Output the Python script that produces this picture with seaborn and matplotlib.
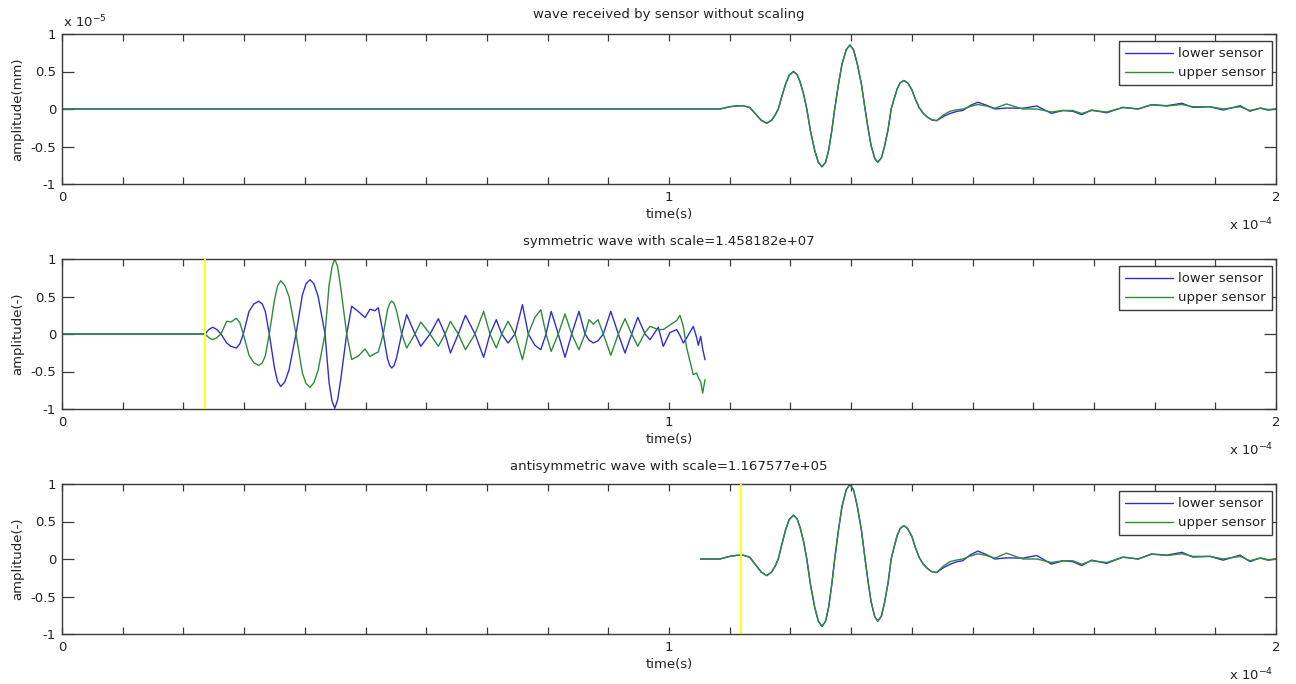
import numpy as np
import pandas as pd
import matplotlib
matplotlib.use("Agg")
import matplotlib.pyplot as plt
import seaborn as sns
from matplotlib.ticker import FixedLocator, MultipleLocator, FuncFormatter
from matplotlib.lines import Line2D

# ---------------- data ----------------
# top panel: main pulse shared by both sensors (time in microseconds,
# amplitude in units of 1e-5 mm)
pulse_t = [0.0, 105.2, 108.4, 110.0, 111.2, 112.2, 113.3, 114.2, 115.2, 116.1,
           116.9, 117.5, 118.0, 118.6, 119.2, 119.8, 120.5, 121.1, 121.6, 122.2,
           122.7, 123.3, 124.0, 124.6, 125.2, 125.8, 126.3, 126.8, 127.3, 127.9,
           128.5, 129.2, 129.8, 130.4, 131.0, 131.7, 132.3, 132.8, 133.3, 133.9,
           134.4, 135.0, 135.5, 136.1, 136.6, 137.1, 137.6, 138.1, 138.7, 139.3,
           140.0, 140.6, 141.2, 141.9, 142.6, 143.3, 144.1]
pulse_amp = [0, 0, 0, 0.03, 0.042, 0.044, 0.02, -0.06, -0.15, -0.19,
             -0.15, -0.08, 0, 0.17, 0.33, 0.45, 0.50, 0.46, 0.36, 0.19,
             0, -0.29, -0.55, -0.71, -0.77, -0.71, -0.55, -0.30, 0, 0.32,
             0.60, 0.79, 0.853, 0.79, 0.61, 0.33, 0, -0.26, -0.49, -0.66,
             -0.71, -0.65, -0.50, -0.27, 0, 0.14, 0.27, 0.35, 0.38, 0.35,
             0.26, 0.13, 0.02, -0.06, -0.11, -0.145, -0.155]
# top panel: ringing tail, where the two sensors differ slightly
tail_t = [145.2, 146.3, 147.5, 148.4, 149.7, 150.9, 152.3, 153.7, 155.6, 158.3,
          160.6, 163.0, 164.9, 166.5, 168.0, 169.6, 172.1, 174.8, 177.3, 179.5,
          182.0, 184.5, 186.3, 189.1, 191.3, 194.1, 195.7, 197.4, 198.7, 200.0]
tail_lower = [-0.10, -0.06, -0.03, -0.02, 0.05, 0.09, 0.05, 0.0, 0.013, 0.01,
              0.04, -0.058, -0.02, -0.03, -0.075, -0.013, -0.05, 0.022, 0.0, 0.058,
              0.044, 0.076, 0.022, 0.03, -0.013, 0.044, -0.03, 0.013, -0.013, 0.0]
tail_upper = [-0.08, -0.03, -0.01, 0.0, 0.035, 0.06, 0.04, 0.01, 0.067, 0.0,
              0.0, -0.04, -0.02, -0.02, -0.06, -0.02, -0.04, 0.02, 0.0, 0.055,
              0.04, 0.06, 0.03, 0.03, 0.0, 0.03, -0.02, 0.01, -0.01, 0.0]

# middle panel (symmetric wave), time in microseconds, amplitude (-)
sym_t = [0.0, 23.56, 24.2, 24.83, 25.5, 26.19, 27.13, 27.84, 28.71, 29.3,
         29.87, 30.8, 31.6, 32.42, 33.0, 33.5, 34.15, 35.0, 35.5, 36.03,
         36.7, 37.4, 38.55, 39.6, 40.2, 40.86, 41.5, 42.2, 43.33, 44.0,
         44.5, 44.94, 45.4, 45.9, 46.9, 47.73, 48.81, 49.92, 50.74, 51.57,
         52.11, 52.93, 53.62, 54.0, 54.32, 54.7, 55.11, 55.96, 56.79, 58.15,
         59.11, 60.63, 62.0, 63.1, 63.99, 65.29, 66.47, 68.04, 69.46, 70.51,
         71.55, 72.44, 73.48, 74.63, 75.86, 76.82, 77.9, 78.88, 79.74, 80.59,
         81.76, 82.87, 83.97, 85.17, 86.16, 86.82, 87.53, 88.3, 89.18, 90.41,
         91.65, 92.75, 93.85, 94.86, 96.05, 96.87, 98.24, 99.06, 100.16, 101.27,
         101.81, 102.36, 102.92, 104.0, 104.56, 104.83, 105.22, 105.55, 105.93]
sym_lower = [0, 0, 0.06, 0.09, 0.06, 0, -0.12, -0.165, -0.187, -0.13,
             0, 0.30, 0.40, 0.436, 0.40, 0.30, 0, -0.45, -0.63, -0.70,
             -0.64, -0.48, 0, 0.52, 0.67, 0.724, 0.67, 0.50, 0, -0.65,
             -0.90, -0.99, -0.88, -0.62, 0, 0.37, 0.30, 0.22, 0.33, 0.31,
             0.35, 0, -0.33, -0.42, -0.453, -0.42, -0.32, 0, 0.258, 0,
             -0.164, 0, 0.204, 0, -0.253, 0, 0.249, 0, -0.311, 0,
             0.191, 0, -0.12, 0, 0.391, 0, -0.15, -0.209, 0, 0.302,
             0, -0.311, 0, 0.302, 0, -0.08, -0.12, -0.09, 0, 0.302,
             0, -0.253, 0, 0.222, 0, -0.076, 0.089, -0.164, 0.02, 0.058,
             -0.02, -0.12, -0.05, 0.102, -0.05, -0.151, -0.031, -0.20, -0.342]
sym_upper = [0, 0, -0.05, -0.076, -0.05, 0, 0.17, 0.16, 0.21, 0.15,
             0, -0.28, -0.385, -0.418, -0.385, -0.29, 0, 0.45, 0.64, 0.71,
             0.65, 0.50, 0, -0.52, -0.66, -0.711, -0.65, -0.48, 0, 0.65,
             0.90, 1.0, 0.90, 0.63, 0, -0.34, -0.295, -0.20, -0.30, -0.26,
             -0.24, 0, 0.32, 0.41, 0.44, 0.41, 0.31, 0, -0.187, 0,
             0.16, 0, -0.164, 0, 0.169, 0, -0.209, 0, 0.302, 0,
             -0.187, 0, 0.169, 0, -0.342, 0, 0.22, 0.324, 0, -0.231,
             0, 0.267, 0, -0.209, 0, 0.191, 0.13, 0.191, 0, -0.284,
             0, 0.204, 0, -0.164, 0.02, 0.102, 0.058, 0.06, 0.12, 0.18,
             0.249, 0.10, -0.187, -0.542, -0.52, -0.58, -0.64, -0.787, -0.609]

# bottom panel: antisymmetric wave = raw wave (mm) times the stated scale
anti_scale = 1.167577e5
sym_scale = 1.458182e7
anti_start_us = 105.2
sym_marker_us = 23.56
anti_marker_us = 111.86

titles = ["wave received by sensor without scaling",
          "symmetric wave with scale=1.458182e+07",
          "antisymmetric wave with scale=1.167577e+05"]
ylabels = ["amplitude(mm)", "amplitude(-)", "amplitude(-)"]
xlabel_text = "time(s)"
legend_labels = ["lower sensor", "upper sensor"]
y_ticks = [-1, -0.5, 0, 0.5, 1]
x_major = [0, 1, 2]          # in units of 1e-4 s

# ---------------- styling ----------------
sns.set_theme(style="white")
plt.rcParams["font.family"] = ["DejaVu Sans"]
plt.rcParams["mathtext.fontset"] = "dejavusans"

BLUE = "#2f2fcf"
GREEN = "#2e8b38"
YELLOW = "#ffff00"
EDGE = "#3a3a3a"
TXT = "#222222"
FS = 9.5

W, H = 1296, 684
fig = plt.figure(figsize=(W / 100, H / 100), dpi=100)
fig.patch.set_facecolor("white")

left = 62 / W
width = (1276 - 62) / W
tops = [34, 259, 484]
heights = 150
axes = []
for tp in tops:
    ax = fig.add_axes([left, 1 - (tp + heights) / H, width, heights / H])
    axes.append(ax)

# assemble frames
top_time = np.array(pulse_t + tail_t) * 1e-6
df_top = pd.DataFrame({
    "t": top_time,
    "lower": np.array(pulse_amp + tail_lower) * 1e-5,
    "upper": np.array(pulse_amp + tail_upper) * 1e-5,
})
df_sym = pd.DataFrame({"t": np.array(sym_t) * 1e-6,
                       "lower": sym_lower, "upper": sym_upper})
df_anti = df_top[df_top["t"] >= anti_start_us * 1e-6].copy()
df_anti["lower"] = df_anti["lower"] * anti_scale
df_anti["upper"] = df_anti["upper"] * anti_scale

datasets = [df_top, df_sym, df_anti]
markers = [None, sym_marker_us, anti_marker_us]
yscales = [1e-5, 1.0, 1.0]
title_pads = [11.5, 10.0, 10.0]

for i, (ax, df) in enumerate(zip(axes, datasets)):
    sns.lineplot(data=df, x="t", y="lower", ax=ax, color=BLUE, linewidth=1.0,
                 estimator=None, sort=False, legend=False)
    sns.lineplot(data=df, x="t", y="upper", ax=ax, color=GREEN, linewidth=1.0,
                 estimator=None, sort=False, legend=False)
    if markers[i] is not None:
        ax.axvline(markers[i] * 1e-6, color=YELLOW, linewidth=1.3, zorder=5)

    ys = yscales[i]
    ax.set_xlim(0, 2e-4)
    ax.set_ylim(-1 * ys, 1 * ys)
    ax.xaxis.set_major_locator(FixedLocator([v * 1e-4 for v in x_major]))
    ax.xaxis.set_minor_locator(MultipleLocator(1e-5))
    ax.xaxis.set_major_formatter(FuncFormatter(lambda v, _: f"{round(v / 1e-4, 6):g}"))
    ax.yaxis.set_major_locator(FixedLocator([v * ys for v in y_ticks]))
    ax.yaxis.set_major_formatter(FuncFormatter(lambda v, _, s=ys: f"{round(v / s, 6):g}"))

    ax.tick_params(axis="x", which="both", direction="in", top=True, bottom=True,
                   length=5, width=0.9, color=EDGE, labelsize=FS, pad=4.7,
                   labelcolor=TXT)
    ax.tick_params(axis="y", which="both", direction="in", left=True, right=True,
                   length=8.6, width=0.9, color=EDGE, labelsize=FS, pad=4.3,
                   labelcolor=TXT)
    for sp in ax.spines.values():
        sp.set_visible(True)
        sp.set_color(EDGE)
        sp.set_linewidth(1.0)
    ax.set_facecolor("white")

    ax.set_ylabel(ylabels[i], fontsize=FS, color=TXT)
    ax.yaxis.set_label_coords(-0.031, 0.5)
    ax.set_xlabel(xlabel_text, fontsize=FS, color=TXT)
    ax.xaxis.set_label_coords(0.5, -0.16)
    ax.set_title(titles[i], fontsize=FS, color=TXT, pad=title_pads[i])

    ax.text(0.9975, -0.307, "x 10$^{-4}$", transform=ax.transAxes,
            ha="right", va="baseline", fontsize=FS, color=TXT)

    handles = [Line2D([0], [0], color=BLUE, lw=1.0),
               Line2D([0], [0], color=GREEN, lw=1.0)]
    leg = ax.legend(handles, legend_labels, loc="upper right",
                    bbox_to_anchor=(1 - 4.3 / 1214, 1 - 7.3 / 150),
                    borderaxespad=0, frameon=True, fancybox=False,
                    edgecolor=EDGE, framealpha=1, fontsize=FS,
                    handlelength=3.6, handletextpad=0.4, borderpad=0.45,
                    labelspacing=0.45)
    leg.get_frame().set_linewidth(1.0)
    for txt in leg.get_texts():
        txt.set_color(TXT)

axes[0].text(0.0008, 1.047, "x 10$^{-5}$", transform=axes[0].transAxes,
             ha="left", va="baseline", fontsize=FS, color=TXT)

fig.savefig("out.png", dpi=100, facecolor="white")
